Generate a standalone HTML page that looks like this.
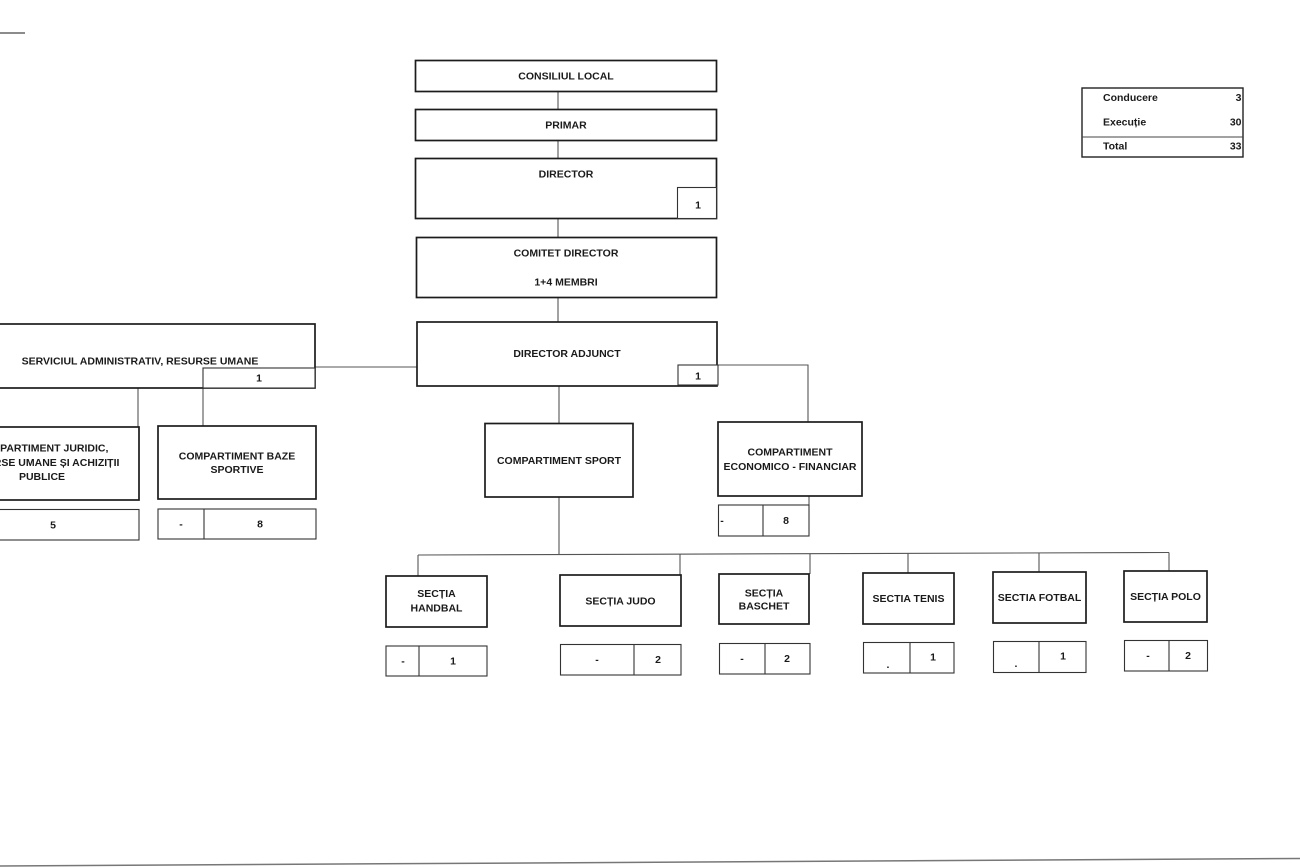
<!DOCTYPE html>
<html>
<head>
<meta charset="utf-8">
<style>
html,body{margin:0;padding:0;background:#fff;}
svg{display:block;}
text{font-family:"Liberation Sans",Arial,sans-serif;font-weight:bold;font-size:10.5px;fill:#1a1a1a;}
.b{fill:#fff;stroke:#1c1c1c;stroke-width:1.7;}
.s{fill:#fff;stroke:#333;stroke-width:1.1;}
.c{stroke:#555;stroke-width:1.1;fill:none;}
</style>
</head>
<body>
<svg width="1300" height="867" viewBox="0 0 1300 867" xmlns="http://www.w3.org/2000/svg">
<rect width="1300" height="867" fill="#fff"/>
<!-- top-left dash -->
<line x1="0" y1="33" x2="25" y2="33" stroke="#666" stroke-width="1.5"/>
<!-- bottom line -->
<line x1="0" y1="866" x2="1300" y2="858.5" stroke="#777" stroke-width="1.5"/>

<!-- connectors -->
<line class="c" x1="558" y1="92" x2="558" y2="109"/>
<line class="c" x1="558" y1="141" x2="558" y2="158"/>
<line class="c" x1="558" y1="219" x2="558" y2="237"/>
<line class="c" x1="558" y1="298" x2="558" y2="322"/>
<line class="c" x1="315" y1="367" x2="417" y2="367"/>
<polyline class="c" points="718,365 808,365 808,422"/>
<line class="c" x1="559" y1="386" x2="559" y2="423"/>
<line class="c" x1="559" y1="497" x2="559" y2="555"/>
<line class="c" x1="809" y1="496" x2="809" y2="505"/>
<line class="c" x1="138" y1="388" x2="138" y2="427"/>
<line class="c" x1="203" y1="388" x2="203" y2="426"/>
<line class="c" x1="418" y1="555" x2="1169" y2="552.5"/>
<line class="c" x1="418" y1="555" x2="418" y2="576"/>
<line class="c" x1="680" y1="554.5" x2="680" y2="575"/>
<line class="c" x1="810" y1="554" x2="810" y2="574"/>
<line class="c" x1="908" y1="553.5" x2="908" y2="573"/>
<line class="c" x1="1039" y1="553" x2="1039" y2="572"/>
<line class="c" x1="1169" y1="552.5" x2="1169" y2="571"/>

<!-- central column -->
<rect class="b" x="415.5" y="60.5" width="301" height="31"/>
<text x="566" y="79.5" text-anchor="middle">CONSILIUL LOCAL</text>
<rect class="b" x="415.5" y="109.5" width="301" height="31"/>
<text x="566" y="128.5" text-anchor="middle">PRIMAR</text>
<rect class="b" x="415.5" y="158.5" width="301" height="60"/>
<text x="566" y="177.5" text-anchor="middle">DIRECTOR</text>
<rect class="s" x="677.5" y="187.5" width="39" height="31"/>
<text x="698" y="208.5" text-anchor="middle">1</text>
<rect class="b" x="416.5" y="237.5" width="300" height="60"/>
<text x="566" y="256.5" text-anchor="middle">COMITET DIRECTOR</text>
<text x="566" y="285.5" text-anchor="middle">1+4 MEMBRI</text>
<rect class="b" x="417" y="322" width="300" height="64"/>
<text x="567" y="357" text-anchor="middle">DIRECTOR ADJUNCT</text>
<rect class="s" x="678" y="365" width="40" height="20"/>
<text x="698" y="379.5" text-anchor="middle">1</text>

<!-- left -->
<rect class="b" x="-35" y="324" width="350" height="64"/>
<text x="140" y="364.5" text-anchor="middle">SERVICIUL ADMINISTRATIV, RESURSE UMANE</text>
<rect class="s" x="203" y="368" width="112" height="20"/>
<text x="259" y="381.5" text-anchor="middle">1</text>

<rect class="b" x="-55" y="427" width="194" height="73"/>
<text x="42" y="451.5" text-anchor="middle">COMPARTIMENT JURIDIC,</text>
<text x="42" y="466" text-anchor="middle">RESURSE UMANE ȘI ACHIZIȚII</text>
<text x="42" y="480" text-anchor="middle">PUBLICE</text>
<rect class="s" x="-55" y="509.5" width="194" height="30.5"/>
<text x="53" y="528.5" text-anchor="middle">5</text>

<rect class="b" x="158" y="426" width="158" height="73"/>
<text x="237" y="459.5" text-anchor="middle">COMPARTIMENT BAZE</text>
<text x="237" y="473" text-anchor="middle">SPORTIVE</text>
<rect class="s" x="158" y="509" width="158" height="30"/>
<line class="s" x1="204" y1="509" x2="204" y2="539"/>
<text x="181" y="527.5" text-anchor="middle">-</text>
<text x="260" y="527.5" text-anchor="middle">8</text>

<!-- sport & economico -->
<rect class="b" x="485" y="423.5" width="148" height="73.5"/>
<text x="559" y="464" text-anchor="middle">COMPARTIMENT SPORT</text>
<rect class="b" x="718" y="422" width="144" height="74"/>
<text x="790" y="455.5" text-anchor="middle">COMPARTIMENT</text>
<text x="790" y="470" text-anchor="middle">ECONOMICO - FINANCIAR</text>
<rect class="s" x="718.5" y="505" width="90.5" height="31"/>
<line class="s" x1="763" y1="505" x2="763" y2="536"/>
<text x="722" y="524" text-anchor="middle">-</text>
<text x="786" y="524" text-anchor="middle">8</text>

<!-- sections -->
<rect class="b" x="386" y="576" width="101" height="51"/>
<text x="436.5" y="597" text-anchor="middle">SECȚIA</text>
<text x="436.5" y="611.5" text-anchor="middle">HANDBAL</text>
<rect class="s" x="386" y="646" width="101" height="30"/>
<line class="s" x1="419" y1="646" x2="419" y2="676"/>
<text x="403" y="664.5" text-anchor="middle">-</text>
<text x="453" y="664.5" text-anchor="middle">1</text>

<rect class="b" x="560" y="575" width="121" height="51"/>
<text x="620.5" y="604.5" text-anchor="middle">SECȚIA JUDO</text>
<rect class="s" x="560.5" y="644.5" width="120.5" height="30.5"/>
<line class="s" x1="634" y1="644.5" x2="634" y2="675"/>
<text x="597" y="663" text-anchor="middle">-</text>
<text x="658" y="663" text-anchor="middle">2</text>

<rect class="b" x="719" y="574" width="90" height="50"/>
<text x="764" y="596.5" text-anchor="middle">SECȚIA</text>
<text x="764" y="609.5" text-anchor="middle">BASCHET</text>
<rect class="s" x="719.5" y="643.5" width="90.5" height="30.5"/>
<line class="s" x1="765" y1="643.5" x2="765" y2="674"/>
<text x="742" y="662" text-anchor="middle">-</text>
<text x="787" y="662" text-anchor="middle">2</text>

<rect class="b" x="863" y="573" width="91" height="51"/>
<text x="908.5" y="602" text-anchor="middle">SECTIA TENIS</text>
<rect class="s" x="863.5" y="642.5" width="90.5" height="30.5"/>
<line class="s" x1="910" y1="642.5" x2="910" y2="673"/>
<text x="888" y="668" text-anchor="middle">.</text>
<text x="933" y="660.5" text-anchor="middle">1</text>

<rect class="b" x="993" y="572" width="93" height="51"/>
<text x="1039.5" y="601" text-anchor="middle">SECTIA FOTBAL</text>
<rect class="s" x="993.5" y="641.5" width="92.5" height="31"/>
<line class="s" x1="1039" y1="641.5" x2="1039" y2="672.5"/>
<text x="1016" y="667" text-anchor="middle">.</text>
<text x="1063" y="659.5" text-anchor="middle">1</text>

<rect class="b" x="1124" y="571" width="83" height="51"/>
<text x="1165.5" y="600" text-anchor="middle">SECȚIA POLO</text>
<rect class="s" x="1124.5" y="640.5" width="83" height="30.5"/>
<line class="s" x1="1169" y1="640.5" x2="1169" y2="671"/>
<text x="1148" y="659" text-anchor="middle">-</text>
<text x="1188" y="659" text-anchor="middle">2</text>

<!-- legend -->
<rect x="1082" y="88" width="161" height="69" fill="#fff" stroke="#222" stroke-width="1.4"/>
<line x1="1082" y1="137" x2="1243" y2="137" stroke="#444" stroke-width="1.1"/>
<text x="1103" y="101">Conducere</text>
<text x="1241.5" y="101" text-anchor="end">3</text>
<text x="1103" y="125.5">Execuție</text>
<text x="1241.5" y="125.5" text-anchor="end">30</text>
<text x="1103" y="149.5">Total</text>
<text x="1241.5" y="149.5" text-anchor="end">33</text>
</svg>
</body>
</html>
